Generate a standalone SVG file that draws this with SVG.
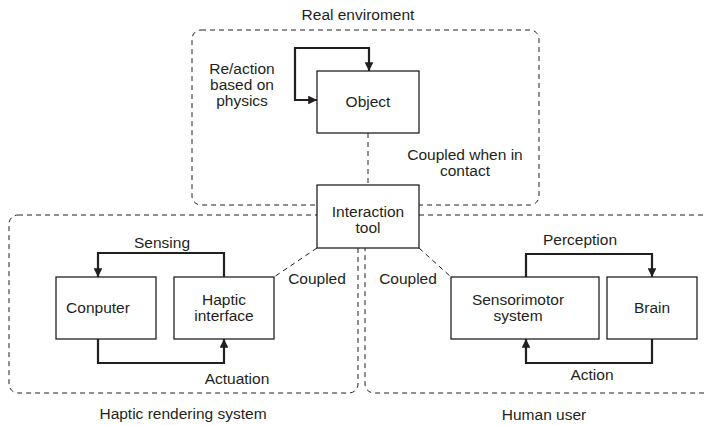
<svg xmlns="http://www.w3.org/2000/svg" width="704" height="425" viewBox="0 0 704 425">
<defs>
<marker id="ah" viewBox="0 0 10 10" refX="10" refY="5" markerWidth="4" markerHeight="4" orient="auto-start-reverse" markerUnits="strokeWidth">
<path d="M0,0 L10,5 L0,10 z" fill="#231f20"/>
</marker>
<style>
text{font-family:"Liberation Sans",Arial,sans-serif;font-size:15.5px;fill:#231f20;text-anchor:middle}
.box{fill:#fff;stroke:#231f20;stroke-width:1.3}
.region{fill:none;stroke:#231f20;stroke-width:1;stroke-dasharray:5,4}
.loop{fill:none;stroke:#231f20;stroke-width:2.2;marker-end:url(#ah)}
.cpl{fill:none;stroke:#231f20;stroke-width:1;stroke-dasharray:5,4}
</style>
</defs>
<rect width="704" height="425" fill="#fff"/>
<g id="regions">
<rect id="real-env" class="region" x="192" y="30" width="347" height="175" rx="9"/>
<rect id="haptic-system" class="region" x="9" y="215" width="349" height="178" rx="9"/>
<rect id="human-user" class="region" x="365" y="215" width="350" height="178" rx="9"/>
<text x="358" y="20">Real enviroment</text>
<text x="183" y="419">Haptic rendering system</text>
<text x="544" y="420">Human user</text>
</g>
<g id="connectors">
<path class="cpl" d="M368,133 V185" stroke-dasharray="8,3,2,3"/>
<path class="cpl" d="M317,248 L274,277"/>
<path class="cpl" d="M419,248 L451,277"/>
<path class="loop" d="M317,100 H295 V48 H369 V71" marker-start="url(#ah)"/>
<path class="loop" d="M224,277 V253 H98 V277"/>
<path class="loop" d="M98,339 V363 H224 V339"/>
<path class="loop" d="M526,277 V254 H652 V277"/>
<path class="loop" d="M652,339 V363 H526 V339"/>
</g>
<g id="labels">
<text x="242" y="74">Re/action</text>
<text x="242" y="90">based on</text>
<text x="242" y="106">physics</text>
<text x="465" y="160">Coupled when in</text>
<text x="465" y="176">contact</text>
<text x="162" y="248">Sensing</text>
<text x="237" y="384">Actuation</text>
<text x="317" y="284">Coupled</text>
<text x="408" y="284">Coupled</text>
<text x="580" y="245">Perception</text>
<text x="592" y="380">Action</text>
</g>
<g id="object">
<rect class="box" x="317" y="71" width="102" height="62"/>
<text x="368" y="107">Object</text>
</g>
<g id="interaction-tool">
<rect class="box" x="317" y="185" width="102" height="63"/>
<text x="368" y="217">Interaction</text>
<text x="368" y="233">tool</text>
</g>
<g id="computer">
<rect class="box" x="56" y="277" width="100" height="62"/>
<text x="98" y="313">Conputer</text>
</g>
<g id="haptic-interface">
<rect class="box" x="174" y="277" width="100" height="62"/>
<text x="224" y="305">Haptic</text>
<text x="224" y="321">interface</text>
</g>
<g id="sensorimotor">
<rect class="box" x="451" y="277" width="148" height="62"/>
<text x="518" y="305">Sensorimotor</text>
<text x="518" y="321">system</text>
</g>
<g id="brain">
<rect class="box" x="607" y="277" width="90" height="62"/>
<text x="652" y="313">Brain</text>
</g>
</svg>
